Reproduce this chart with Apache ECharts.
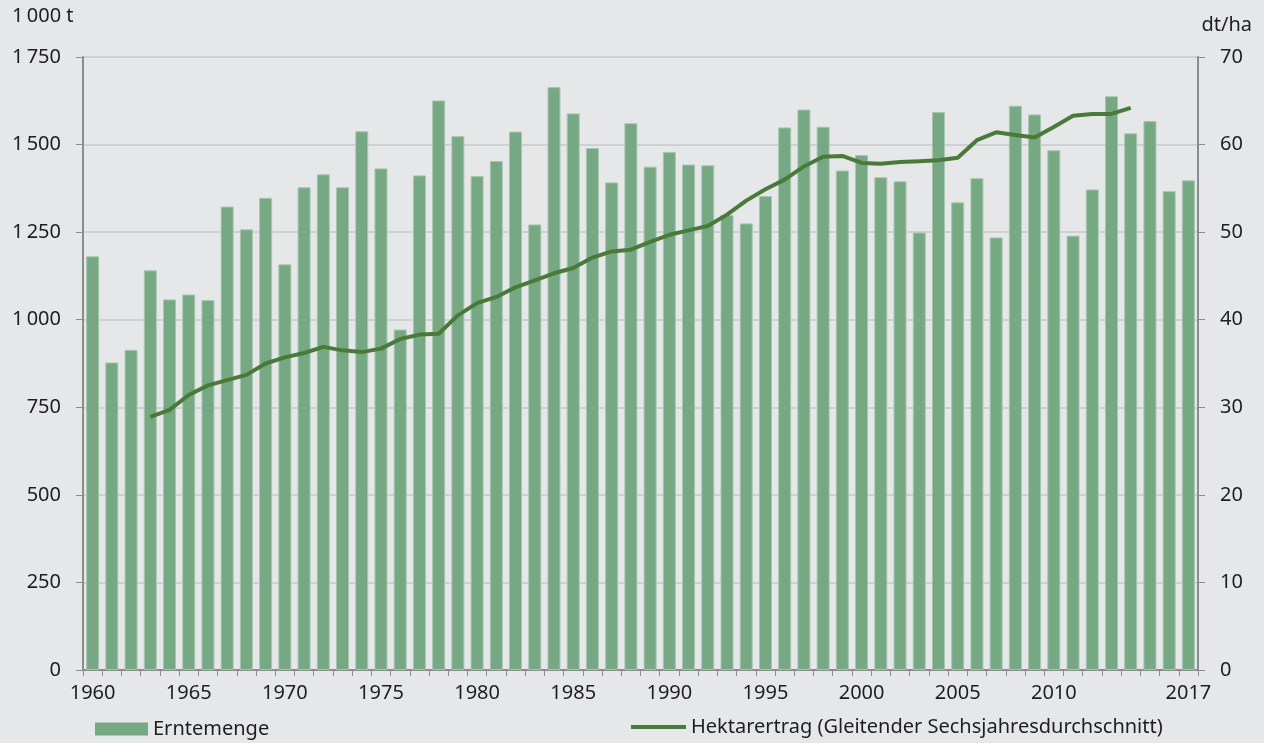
<!DOCTYPE html>
<html>
<head>
<meta charset="utf-8">
<script src="https://cdn.jsdelivr.net/npm/echarts@6/dist/echarts.min.js"></script>
<style>
html,body{margin:0;padding:0;background:#e6e7e9;}
#c{width:1264px;height:743px;}
</style>
</head>
<body>
<div id="c"></div>
<script>
var years = [];
for (var y = 1960; y <= 2017; y++) years.push(String(y));

var erntemenge = [1181, 878, 914, 1141, 1058, 1072, 1056, 1323, 1258, 1348,
  1158, 1378, 1415, 1378, 1538, 1432, 972, 1412, 1626, 1524,
  1410, 1453, 1537, 1272, 1664, 1589, 1490, 1392, 1561, 1437,
  1479, 1443, 1441, 1299, 1275, 1353, 1549, 1600, 1551, 1426,
  1470, 1407, 1395, 1249, 1593, 1335, 1404, 1235, 1611, 1586,
  1484, 1240, 1372, 1638, 1532, 1567, 1367, 1398];

var hektarertrag = [null, null, null, 28.9, 29.7, 31.4, 32.5, 33.1, 33.7, 35.0,
  35.7, 36.2, 36.9, 36.5, 36.3, 36.7, 37.8, 38.3, 38.4, 40.5,
  41.9, 42.6, 43.7, 44.5, 45.3, 45.9, 47.1, 47.8, 48.0, 48.9,
  49.7, 50.2, 50.7, 52.0, 53.6, 54.9, 56.0, 57.5, 58.6, 58.7,
  57.9, 57.8, 58.0, 58.1, 58.2, 58.5, 60.5, 61.4, 61.1, 60.8,
  62.0, 63.3, 63.5, 63.5, 64.2, null, null, null];

var leftTicks = [0, 250, 500, 750, 1000, 1250, 1500, 1750];
var rightTicks = [0, 10, 20, 30, 40, 50, 60, 70];
var shownYears = ['1960','1965','1970','1975','1980','1985','1990','1995','2000','2005','2010','2017'];

function fmt(v) {
  var s = String(v);
  if (s.length > 3) s = s.slice(0, s.length - 3) + '\u2009' + s.slice(s.length - 3);
  return s;
}

var FONT = 'Noto Sans';
var FS = 20;
var TXT = '#1e1e1e';
var AX = '#8c8c8e';

var chart = echarts.init(document.getElementById('c'), null, {renderer: 'canvas'});
chart.setOption({
  backgroundColor: '#e6e7e9',
  animation: false,
  textStyle: {fontFamily: FONT},
  grid: {left: 83, right: 66, top: 57, bottom: 73, containLabel: false},
  xAxis: {
    type: 'category',
    data: years,
    boundaryGap: true,
    axisLine: {show: true, lineStyle: {color: AX, width: 2}},
    axisTick: {show: true, interval: 0, length: 6, inside: false, lineStyle: {color: AX, width: 1}},
    axisLabel: {
      interval: function (i, v) { return shownYears.indexOf(v) >= 0; },
      margin: 13, fontSize: FS, color: TXT, fontFamily: FONT
    },
    splitLine: {show: false}
  },
  yAxis: [{
    type: 'value', min: leftTicks[0], max: leftTicks[leftTicks.length - 1], interval: 250,
    position: 'left',
    axisLine: {show: true, lineStyle: {color: AX, width: 2}},
    axisTick: {show: true, length: 7, lineStyle: {color: AX, width: 1}},
    axisLabel: {margin: 22, fontSize: FS, color: TXT, fontFamily: FONT, formatter: fmt},
    splitLine: {show: true, lineStyle: {color: '#c7c8cb', width: 1.5}}
  }, {
    type: 'value', min: rightTicks[0], max: rightTicks[rightTicks.length - 1], interval: 10,
    position: 'right',
    axisLine: {show: true, lineStyle: {color: AX, width: 2}},
    axisTick: {show: true, length: 7, lineStyle: {color: AX, width: 1}},
    axisLabel: {margin: 22, fontSize: FS, color: TXT, fontFamily: FONT},
    splitLine: {show: false}
  }],
  legend: [{
    data: ['Erntemenge'], left: 90, top: 714, itemWidth: 53, itemHeight: 13, itemGap: 10,
    textStyle: {fontSize: FS, color: TXT, fontFamily: FONT}, icon: 'rect',
    itemStyle: {borderWidth: 0}
  }, {
    data: ['Hektarertrag (Gleitender Sechsjahresdurchschnitt)'], left: 626, top: 712, itemWidth: 55, itemHeight: 16,
    textStyle: {fontSize: FS, color: TXT, fontFamily: FONT},
    icon: 'path://M0,6 L55,6 L55,10 L0,10 Z'
  }],
  graphic: [{
    type: 'text', left: 12, top: 6,
    style: {text: '1\u2009000 t', fontSize: FS, fill: TXT, fontFamily: FONT}
  }, {
    type: 'text', right: 12, top: 15,
    style: {text: 'dt/ha', fontSize: FS, fill: TXT, fontFamily: FONT}
  }],
  series: [{
    name: 'Erntemenge', type: 'bar', yAxisIndex: 0, data: erntemenge,
    barWidth: 13,
    itemStyle: {color: '#76a883', borderColor: '#a6c7ae', borderWidth: 1}
  }, {
    name: 'Hektarertrag (Gleitender Sechsjahresdurchschnitt)', type: 'line', yAxisIndex: 1,
    data: hektarertrag, symbol: 'none', smooth: false, connectNulls: false,
    lineStyle: {color: '#4a7a3a', width: 4}, itemStyle: {color: '#4a7a3a'}
  }]
});
</script>
</body>
</html>
